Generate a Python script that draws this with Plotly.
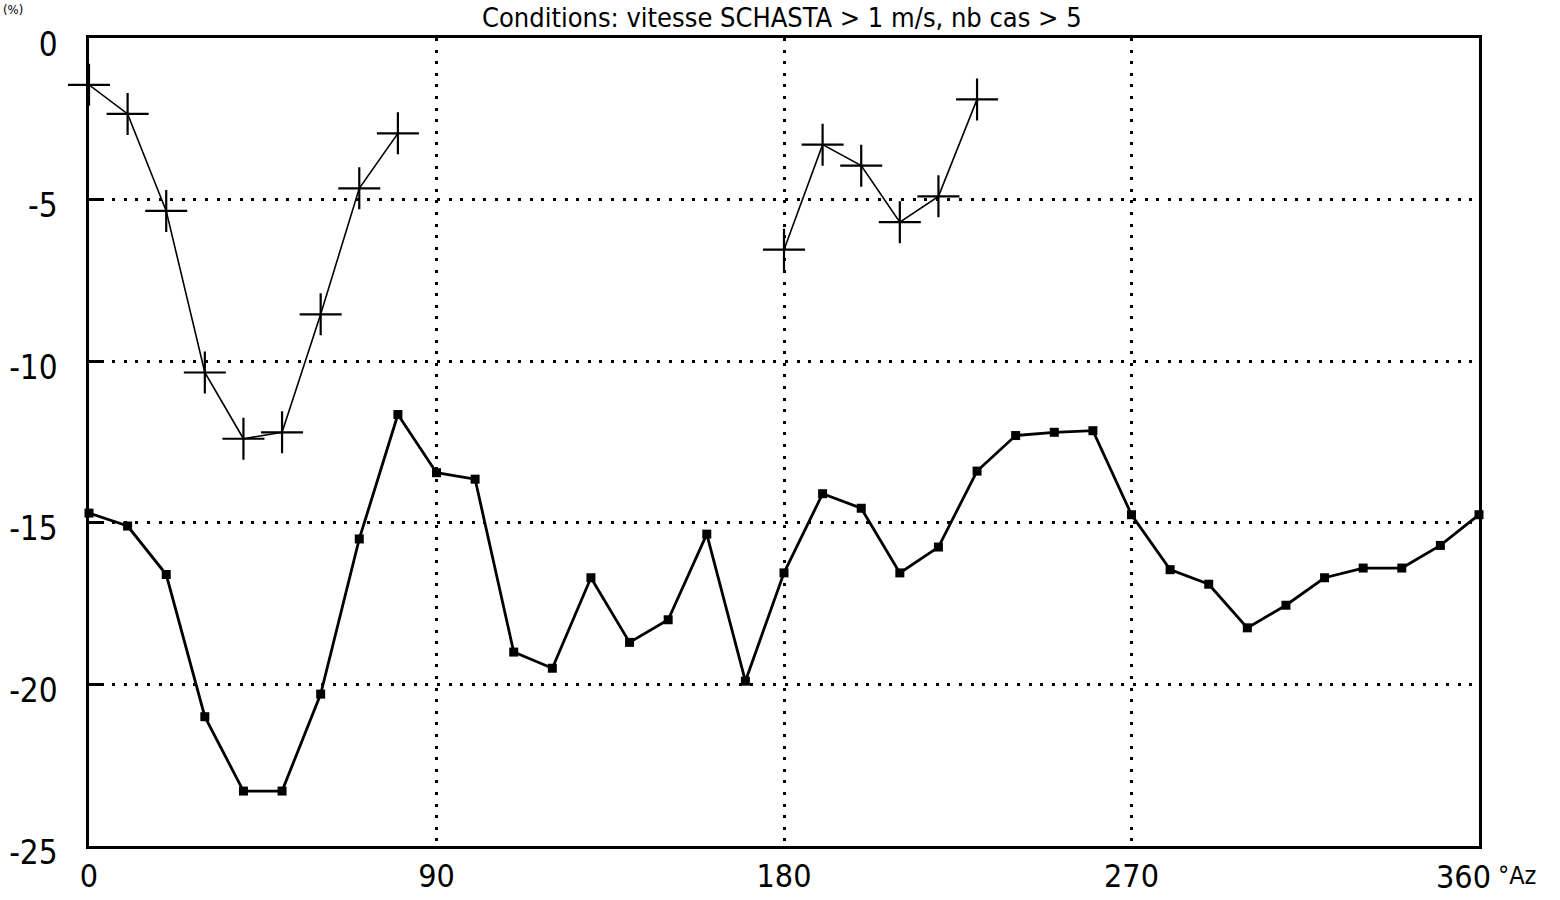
import plotly.graph_objects as go

# Azimuth (degrees), one value every 10 degrees
azimuth = list(range(0, 361, 10))

# Series with square markers (full circle)
serie_carres = [
    -14.7, -15.1, -16.6, -21.0, -23.3, -23.3, -20.3, -15.5, -11.65, -13.45,
    -13.65, -19.0, -19.5, -16.7, -18.7, -18.0, -15.35, -19.9, -16.55, -14.1,
    -14.55, -16.55, -15.75, -13.4, -12.3, -12.2, -12.15, -14.75, -16.45, -16.9,
    -18.25, -17.55, -16.7, -16.4, -16.4, -15.7, -14.75,
]

# Series with cross markers (two separate sectors)
serie_croix = [
    -1.45, -2.35, -5.35, -10.35, -12.4, -12.2, -8.55, -4.65, -2.95, None,
    None, None, None, None, None, None, None, None, -6.55, -3.3,
    -3.95, -5.7, -4.9, -1.9, None, None, None, None, None, None,
    None, None, None, None, None, None, None,
]

y_ticks = [0, -5, -10, -15, -20, -25]
y_tick_labels = ["0", "-5", "-10", "-15", "-20", "-25"]
x_ticks = [0, 90, 180, 270]
x_tick_labels = ["0", "90", "180", "270"]
x_last_label = "360"
x_unit = "°Az"
y_unit = "(%)"

titre = "Conditions: vitesse SCHASTA > 1 m/s, nb cas > 5"

FONT = "DejaVu Sans Condensed, Liberation Sans Narrow, Roboto Condensed, DejaVu Sans, sans-serif"
W, H = 1560, 900
ML, MR, MT, MB = 89, 81, 38, 54
plot_w = W - ML - MR
plot_h = H - MT - MB

fig = go.Figure()

fig.add_trace(go.Scatter(
    x=azimuth, y=serie_carres, mode="lines+markers",
    line=dict(color="black", width=2.8),
    marker=dict(symbol="square", size=9, color="black"),
    cliponaxis=False, showlegend=False,
))

fig.add_trace(go.Scatter(
    x=azimuth, y=serie_croix, mode="lines+markers",
    connectgaps=False,
    line=dict(color="black", width=1.6),
    marker=dict(symbol="cross-thin-open", size=30,
                line=dict(color="black", width=2.2)),
    cliponaxis=False, showlegend=False,
))

grid_dash = "3px,8.6px"

fig.update_xaxes(
    range=[0, 360], tickvals=x_ticks, ticktext=x_tick_labels,
    showgrid=True, gridcolor="black", gridwidth=2.5, griddash=grid_dash,
    showline=True, linecolor="black", linewidth=2.5, mirror=True,
    ticks="", zeroline=False, ticklabelstandoff=0, automargin=False,
    tickfont=dict(family=FONT, size=32, color="black"),
)

fig.update_yaxes(
    range=[-25, 0], tickvals=y_ticks, ticktext=y_tick_labels,
    showgrid=True, gridcolor="black", gridwidth=2.5, griddash=grid_dash,
    showline=True, linecolor="black", linewidth=2.5, mirror=True,
    ticks="inside", ticklen=14, tickwidth=2.5, tickcolor="black",
    zeroline=False, ticklabelstandoff=22, ticklabelshift=6, automargin=False,
    tickfont=dict(family=FONT, size=33, color="black"),
)

# Last azimuth label with its unit
fig.add_annotation(
    x=360, y=0, xref="x", yref="paper", yanchor="top", xanchor="right",
    xshift=14, yshift=-10, showarrow=False,
    text=x_last_label, font=dict(family=FONT, size=32, color="black"),
)
fig.add_annotation(
    x=360, y=0, xref="x", yref="paper", yanchor="top", xanchor="left",
    xshift=17, yshift=-13, showarrow=False,
    text=x_unit, font=dict(family=FONT, size=25, color="black"),
)

# Unit of the vertical axis (top-left corner)
fig.add_annotation(
    x=0, y=1, xref="paper", yref="paper",
    xanchor="left", yanchor="top", showarrow=False,
    xshift=-ML + 1, yshift=MT, text=y_unit,
    font=dict(family=FONT, size=13, color="black"),
)

# Title as a paper annotation kept inside the top margin
fig.add_annotation(
    x=(782 - ML) / plot_w, y=1, xref="paper", yref="paper",
    xanchor="center", yanchor="top", showarrow=False, yshift=MT,
    text=titre, font=dict(family=FONT, size=27, color="black"),
)

fig.update_layout(
    width=W, height=H,
    margin=dict(l=ML, r=MR, t=MT, b=MB),
    paper_bgcolor="white", plot_bgcolor="white",
)

fig.write_html("out.html")
